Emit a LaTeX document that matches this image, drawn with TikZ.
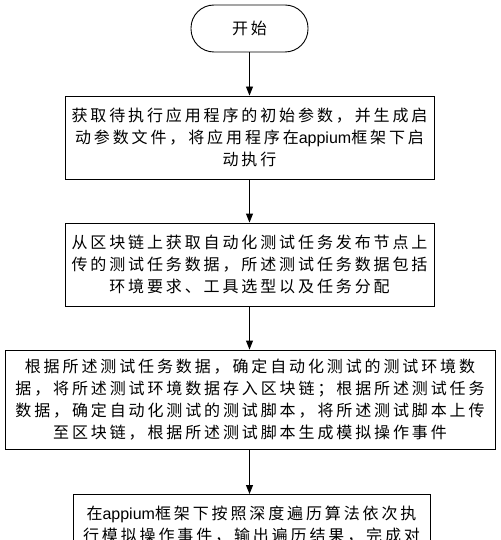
\documentclass[tikz,border=0pt]{standalone}
\usepackage{fontspec}
\newfontfamily\cjk[LetterSpace=18]{Noto Sans CJK SC}
\newfontfamily\latin{Liberation Sans}
\usetikzlibrary{arrows.meta}
\usetikzlibrary{positioning}

\begin{document}
\begin{tikzpicture}[x=1pt, y=-1pt,
    box/.style={draw, line width=0.9pt, align=center, inner sep=0pt,
        font=\cjk\fontsize{16}{22}\selectfont},
    terminal/.style={box, rounded corners=23pt, minimum width=117pt, minimum height=47pt},
    flow/.style={line width=0.9pt, -{Triangle[length=9pt, width=7pt]}}]
        \useasboundingbox (0,0) rectangle (500,540);

        % Start and the four steps
        \node[terminal] (start) at (249.5,28.5) {开始};
        \node[box, minimum width=369pt, minimum height=83pt] (getparam) at (249.5,137.5)
            {获取待执行应用程序的初始参数，并生成启\\
             动参数文件，将应用程序在{\latin appium}框架下启\\
             动执行};
        \node[box, minimum width=369pt, minimum height=83pt] (fetchtask) at (249.5,264.5)
            {从区块链上获取自动化测试任务发布节点上\\
             传的测试任务数据，所述测试任务数据包括\\
             环境要求、工具选型以及任务分配};
        \node[box, minimum width=490pt, minimum height=99pt] (buildenv) at (250,399.5)
            {根据所述测试任务数据，确定自动化测试的测试环境数\\
             据，将所述测试环境数据存入区块链；根据所述测试任务\\
             数据，确定自动化测试的测试脚本，将所述测试脚本上传\\
             至区块链，根据所述测试脚本生成模拟操作事件};
        \node[box, anchor=north, minimum width=357pt, minimum height=60pt] (traverse) at (251.5,494)
            {在{\latin appium}框架下按照深度遍历算法依次执\\
             行模拟操作事件，输出遍历结果，完成对};

        % Connectors
        \draw[flow] (start) -- (getparam);
        \draw[flow] (getparam) -- (fetchtask);
        \draw[flow] (fetchtask) -- (fetchtask |- buildenv.north);
        \draw[flow] (buildenv.south -| fetchtask) -- (fetchtask |- traverse.north);
    \end{tikzpicture}
\end{document}
